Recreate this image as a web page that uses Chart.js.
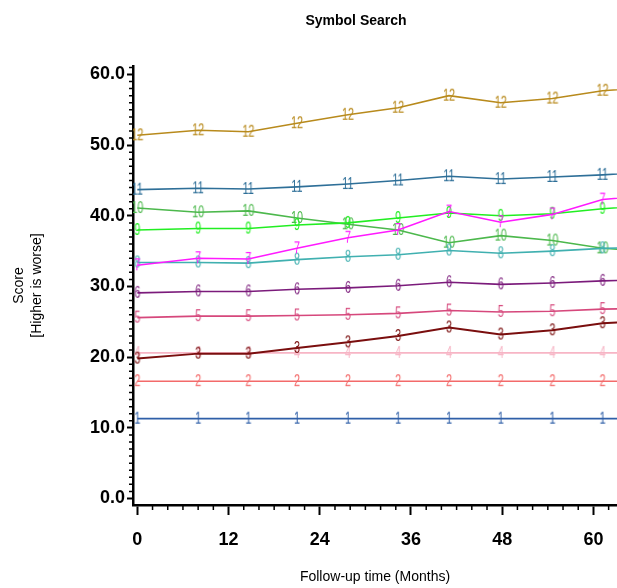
<!DOCTYPE html>
<html>
<head>
<meta charset="utf-8">
<script src="https://cdn.jsdelivr.net/npm/chart.js@4.4.1/dist/chart.umd.min.js"></script>
<style>
  html, body { margin: 0; padding: 0; background: #fff; }
  #wrap { width: 617px; height: 588px; }
</style>
</head>
<body>
<div id="wrap"><canvas id="myChart" width="617" height="588"></canvas></div>
<script>
// visit times (months) - last one is just past the right edge of the crop
const months = [0, 8, 14.6, 21, 27.7, 34.3, 41, 47.8, 54.6, 61.2, 68];

const s1  = [11.3, 11.3, 11.3, 11.3, 11.3, 11.3, 11.3, 11.3, 11.3, 11.3, 11.3];
const s2  = [16.6, 16.6, 16.6, 16.6, 16.6, 16.6, 16.6, 16.6, 16.6, 16.6, 16.6];
const s3  = [19.8, 20.5, 20.5, 21.3, 22.1, 23.0, 24.2, 23.2, 23.8, 24.8, 25.2];
const s4  = [20.6, 20.6, 20.6, 20.6, 20.6, 20.6, 20.6, 20.6, 20.6, 20.6, 20.6];
const s5  = [25.6, 25.8, 25.8, 25.9, 26.0, 26.2, 26.6, 26.4, 26.5, 26.8, 26.9];
const s6  = [29.1, 29.3, 29.3, 29.6, 29.8, 30.1, 30.6, 30.3, 30.5, 30.8, 31.0];
const s7  = [33.0, 34.0, 33.9, 35.4, 36.9, 38.0, 40.6, 39.1, 40.2, 42.3, 43.0];
const s8  = [33.4, 33.4, 33.3, 33.8, 34.2, 34.5, 35.1, 34.7, 35.0, 35.4, 35.6];
const s9  = [38.0, 38.2, 38.2, 38.7, 39.0, 39.7, 40.4, 40.0, 40.3, 41.0, 41.5];
const s10 = [41.1, 40.5, 40.7, 39.7, 38.8, 38.0, 36.2, 37.2, 36.5, 35.4, 34.9];
const s11 = [43.7, 43.9, 43.8, 44.1, 44.5, 45.0, 45.6, 45.2, 45.5, 45.8, 46.2];
const s12 = [51.4, 52.1, 51.9, 53.1, 54.3, 55.3, 57.0, 56.0, 56.6, 57.7, 58.2];

const seriesNames = ['1', '2', '3', '4', '5', '6', '7', '8', '9', '10', '11', '12'];
const seriesValues = [s1, s2, s3, s4, s5, s6, s7, s8, s9, s10, s11, s12];
const seriesColors = ['#2f5fa8', '#f36a6a', '#7a0e0e', '#f7b5c5', '#d6487c', '#7b1b7b',
                      '#ff1aff', '#40b0b0', '#22ee22', '#4cb84c', '#2e6f98', '#b88a1c'];

const xTicks = [0, 12, 24, 36, 48, 60];
const yTicks = [0, 10, 20, 30, 40, 50, 60];

const FONT = '"Liberation Sans", Arial, sans-serif';

// markers are the series number written in the series colour (squeezed a bit)
function makeMarker(txt, color) {
  const c = document.createElement('canvas');
  c.width = 20;
  c.height = 20;
  const g = c.getContext('2d');
  g.translate(10, 10.5);
  g.scale(0.68, 1);
  g.font = '16px ' + FONT;
  g.fillStyle = color;
  g.textAlign = 'center';
  g.textBaseline = 'middle';
  g.fillText(txt, 0, 0);
  return c;
}

const datasets = seriesValues.map((vals, i) => ({
  label: seriesNames[i],
  data: months.map((m, j) => ({ x: m, y: vals[j] })),
  borderColor: seriesColors[i],
  backgroundColor: seriesColors[i],
  borderWidth: i === 2 ? 2 : 1.6,
  pointStyle: makeMarker(seriesNames[i], seriesColors[i]),
  pointRadius: 3,
  tension: 0
}));

// small ticks between the labelled ones + the heading
const extras = {
  id: 'extras',
  afterDraw(chart) {
    const ctx = chart.ctx;
    const { x, y } = chart.scales;
    const area = chart.chartArea;
    ctx.save();
    ctx.strokeStyle = '#000';
    ctx.lineWidth = 1.5;
    ctx.beginPath();
    for (let v = 0; v <= 61; v++) {
      if (v % 10 === 0) continue;
      const py = y.getPixelForValue(v);
      ctx.moveTo(area.left - 4, py);
      ctx.lineTo(area.left, py);
    }
    for (let v = 2; v <= 62; v += 2) {
      if (v % 12 === 0) continue;
      const px = x.getPixelForValue(v);
      ctx.moveTo(px, area.bottom);
      ctx.lineTo(px, area.bottom + 5);
    }
    ctx.stroke();

    ctx.fillStyle = '#000';
    ctx.font = 'bold 14px ' + FONT;
    ctx.textAlign = 'center';
    ctx.textBaseline = 'middle';
    ctx.fillText('Symbol Search', 356, 21);
    ctx.restore();
  }
};

const config = {
  type: 'line',
  data: { datasets },
  options: {
    responsive: false,
    animation: false,
    layout: { autoPadding: false, padding: { top: 66, left: 0, right: 0, bottom: 0 } },
    plugins: {
      legend: { display: false },
      tooltip: { enabled: false }
    },
    scales: {
      x: {
        type: 'linear',
        min: -0.57,
        max: 63.1,
        afterFit(scale) {
          scale.height = 83;
          scale.paddingLeft = 0;
          scale.paddingRight = 0;
        },
        afterBuildTicks(scale) { scale.ticks = xTicks.map(v => ({ value: v })); },
        ticks: {
          color: '#000',
          padding: 14,
          maxRotation: 0,
          font: { family: FONT, size: 18, weight: 'bold' }
        },
        grid: {
          drawOnChartArea: false,
          drawTicks: true,
          tickLength: 10,
          tickWidth: 2,
          tickColor: '#000'
        },
        border: { display: true, color: '#000', width: 2.5 },
        title: {
          display: true,
          text: 'Follow-up time (Months)',
          color: '#000',
          font: { family: FONT, size: 14 },
          padding: { top: 0, bottom: 2 }
        }
      },
      y: {
        type: 'linear',
        min: -0.92,
        max: 61.2,
        afterFit(scale) {
          scale.width = 133;
          scale.paddingTop = 0;
          scale.paddingBottom = 0;
        },
        afterBuildTicks(scale) { scale.ticks = yTicks.map(v => ({ value: v })); },
        ticks: {
          color: '#000',
          padding: 2,
          font: { family: FONT, size: 18, weight: 'bold' },
          callback: v => Number(v).toFixed(1)
        },
        grid: {
          drawOnChartArea: false,
          drawTicks: true,
          tickLength: 6,
          tickWidth: 2,
          tickColor: '#000'
        },
        border: { display: true, color: '#000', width: 2.5 },
        title: {
          display: true,
          text: ['Score', '[Higher is worse]'],
          color: '#000',
          font: { family: FONT, size: 14, lineHeight: 1.3 },
          padding: { top: 10, bottom: 0 }
        }
      }
    }
  },
  plugins: [extras]
};

const myChart = new Chart(document.getElementById('myChart'), config);
</script>
</body>
</html>
